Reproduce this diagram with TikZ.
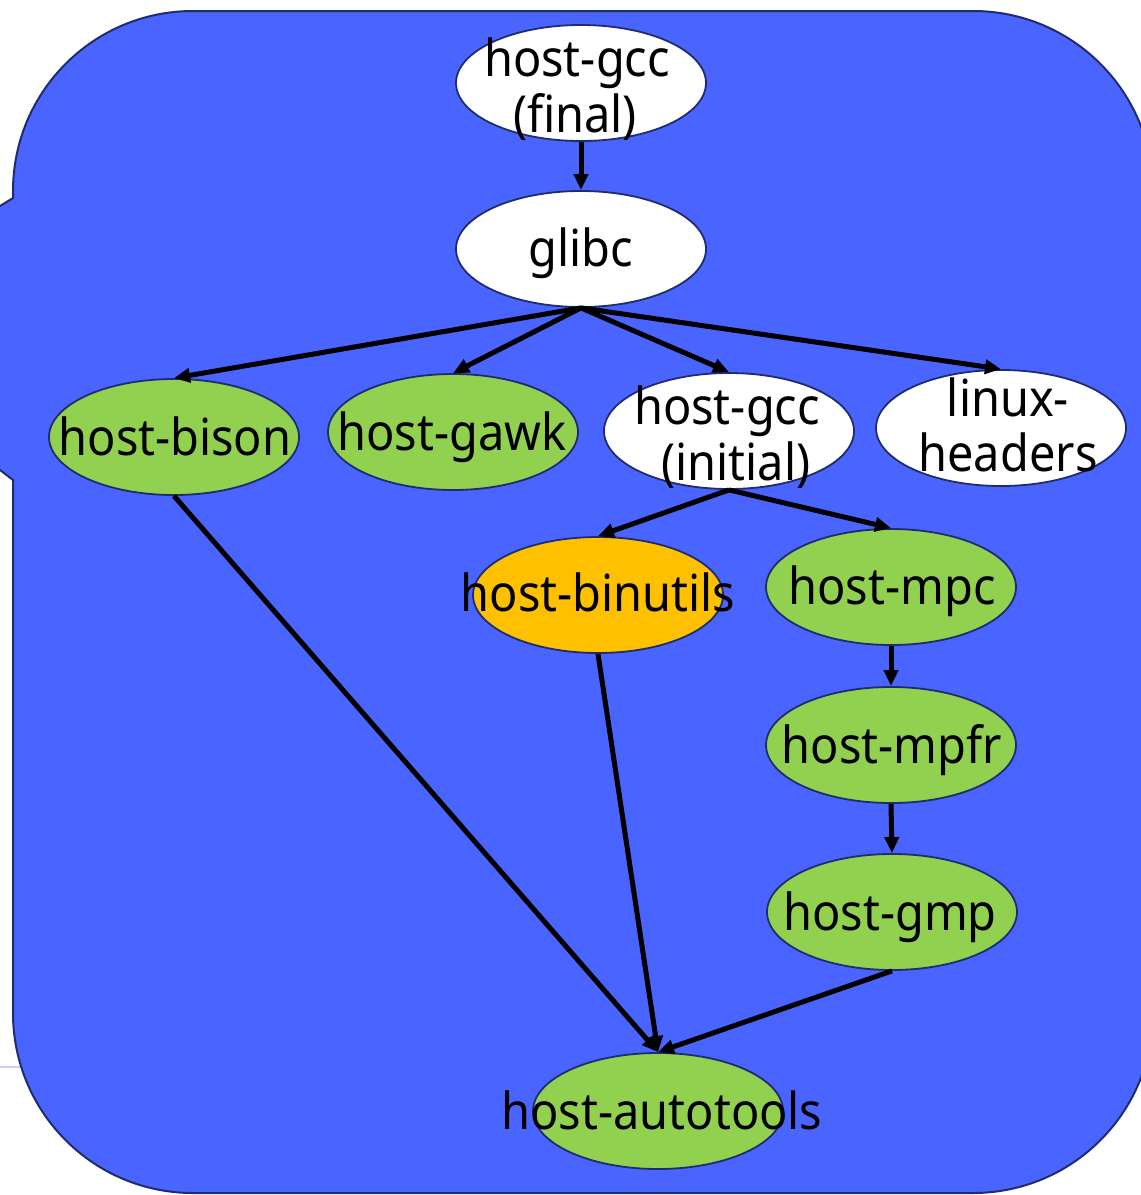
\documentclass[tikz,border=0pt]{standalone}
\usepackage{fontspec}
\setmainfont{Noto Sans}[FakeStretch=0.92]
\usetikzlibrary{shapes.geometric,arrows.meta}

\definecolor{panelblue}{RGB}{74,100,255}
\definecolor{edgenavy}{RGB}{31,44,110}
\definecolor{pkggreen}{RGB}{146,208,80}
\definecolor{pkgorange}{RGB}{255,192,0}
\definecolor{faintline}{RGB}{200,205,250}

\tikzset{
  pkg/.style={ellipse, draw=edgenavy, line width=1.8pt, minimum width=250pt,
              minimum height=116pt, inner sep=0pt},
  pkgwhite/.style={pkg, fill=white},
  pkggreen/.style={pkg, fill=pkggreen},
  pkgorange/.style={pkg, fill=pkgorange},
  txt/.style={anchor=base, inner sep=0pt, font=\fontsize{51}{60}\selectfont},
  dep/.style={line width=5pt, -{Triangle[length=16pt,width=14pt]}},
}

\begin{document}
\begin{tikzpicture}[x=1pt,y=-1pt]
\useasboundingbox (0,0) rectangle (1141,1195);

% faint rule behind the panel
\draw[faintline, line width=1.5pt] (0,1067) -- (40,1067);

% rounded panel with a tab on the left side
\draw[fill=panelblue, draw=edgenavy, line width=2pt]
  (-13,214) -- (13,198) -- (13,191)
  arc[start angle=180, end angle=270, radius=180] -- (973,11)
  arc[start angle=270, end angle=360, radius=180] -- (1153,1013)
  arc[start angle=0, end angle=90, radius=180] -- (193,1193)
  arc[start angle=90, end angle=180, radius=180] -- (13,480)
  -- (-13,460) -- cycle;

% packages
\node[pkgwhite]  (final)  at (581,83)   {};
\node[pkgwhite]  (glibc)  at (581,249)  {};
\node[pkggreen]  (bison)  at (174,437)  {};
\node[pkggreen]  (gawk)   at (453,432)  {};
\node[pkgwhite]  (gccini) at (729,431)  {};
\node[pkgwhite]  (linux)  at (1001,428) {};
\node[pkgorange] (binut)  at (598,595)  {};
\node[pkggreen]  (mpc)    at (891,587)  {};
\node[pkggreen]  (mpfr)   at (891,745)  {};
\node[pkggreen]  (gmp)    at (892,912)  {};
\node[pkggreen]  (autot)  at (658,1111) {};

% labels, one node per printed line
\node[txt] (final-a)  at (577,76)   {host-gcc};
\node[txt] (final-b)  at (575,132)  {(final)};
\node[txt] (glibc-a)  at (581,266)  {glibc};
\node[txt] (bison-a)  at (175,455)  {host-bison};
\node[txt] (gawk-a)   at (452,450)  {host-gawk};
\node[txt] (gccini-a) at (727,424)  {host-gcc};
\node[txt] (gccini-b) at (736,480)  {(initial)};
\node[txt] (linux-a)  at (1008,416) {linux-};
\node[txt] (linux-b)  at (1008,471) {headers};
\node[txt] (binut-a)  at (598,611)  {host-binutils};
\node[txt] (mpc-a)    at (892,604)  {host-mpc};
\node[txt] (mpfr-a)   at (892,763)  {host-mpfr};
\node[txt] (gmp-a)    at (890,930)  {host-gmp};
\node[txt] (autot-a)  at (662,1129) {host-autotools};

% dependencies
\draw[dep] (final.south)  -- (glibc.north);
\draw[dep] (glibc.south)  -- (bison.north);
\draw[dep] (glibc.south)  -- (gawk.north);
\draw[dep] (glibc.south)  -- (gccini.north);
\draw[dep] (glibc.south)  -- (linux.north);
\draw[dep] (gccini.south) -- (binut.north);
\draw[dep] (gccini.south) -- (mpc.north);
\draw[dep] (mpc.south)    -- (mpfr.north);
\draw[dep] (mpfr.south)   -- (gmp.north);
\draw[dep] (bison.south)  -- (autot.north);
\draw[dep] (binut.south)  -- (autot.north);
\draw[dep] (gmp.south)    -- (autot.north);
\end{tikzpicture}
\end{document}
